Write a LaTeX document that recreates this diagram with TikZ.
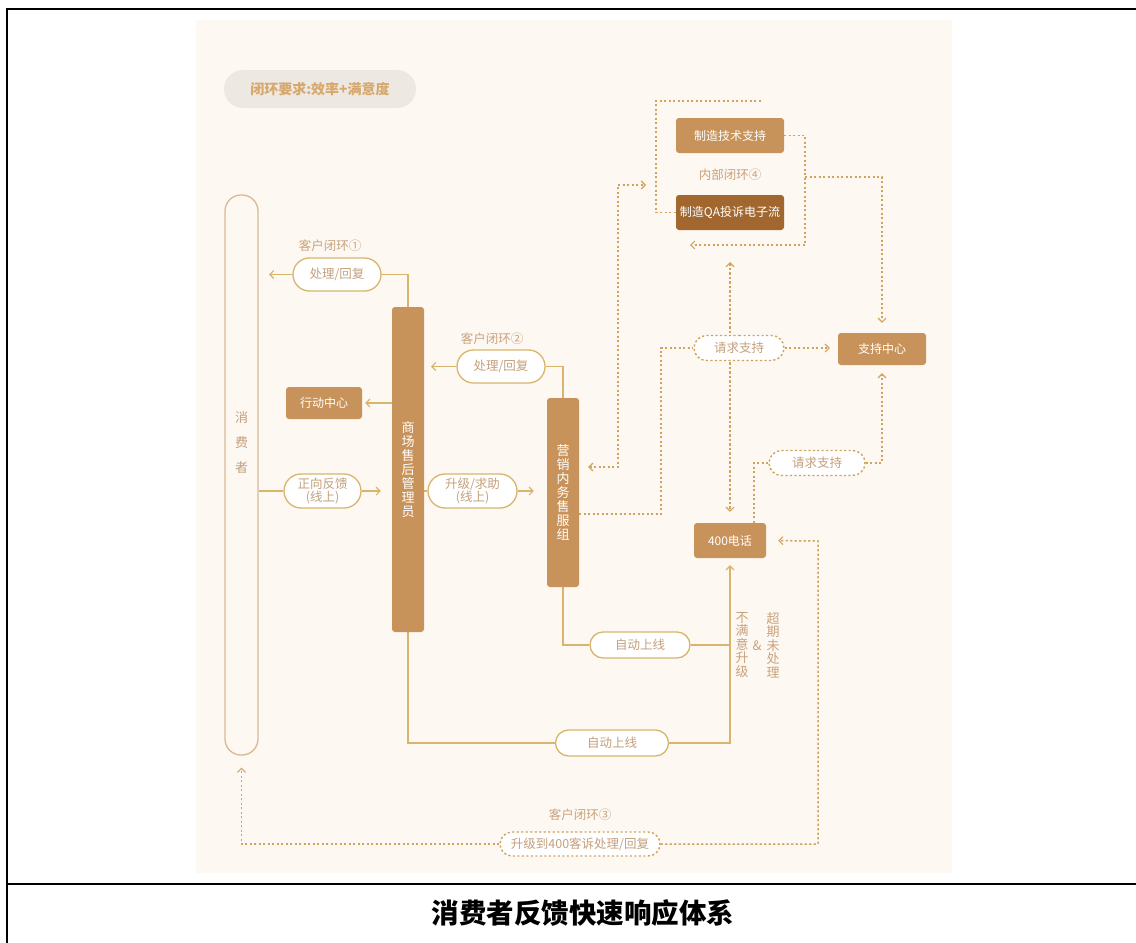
\documentclass[tikz,border=0pt]{standalone}
\usepackage{fontspec}
\setmainfont{Noto Sans CJK SC}
\usetikzlibrary{arrows.meta,shapes.misc}
\pgfdeclarelayer{back}
\pgfdeclarelayer{lines}
\pgfsetlayers{back,lines,main}
\definecolor{panel}{HTML}{FDF8F2}
\definecolor{gold}{HTML}{D8B46C}
\definecolor{dotc}{HTML}{D0A45E}
\definecolor{boxc}{HTML}{C8935A}
\definecolor{boxd}{HTML}{A2672E}
\definecolor{txt}{HTML}{C4A07C}
\definecolor{labc}{HTML}{C9A27C}
\definecolor{goalfill}{HTML}{EEE8E2}
\definecolor{goaltxt}{HTML}{D6A86E}
\definecolor{consline}{HTML}{D9B892}
\tikzset{
  sline/.style={draw=gold, line width=1.3pt},
  sarr/.style={sline, -{Straight Barb[length=4pt,width=8pt,line width=1.1pt]}},
  dline/.style={draw=dotc, line width=1.5pt, dash pattern=on 2.2pt off 2.3pt},
  darr/.style={dline, -{Straight Barb[length=4pt,width=8pt,line width=1.1pt]}},
  ddarr/.style={dline, {Straight Barb[length=4pt,width=8pt,line width=1.1pt]}-{Straight Barb[length=4pt,width=8pt,line width=1.1pt]}},
  pill/.style={rounded rectangle, draw=gold, fill=white, line width=1.3pt, inner sep=0pt, text=txt, align=center, font=\fontsize{12.5}{14}\selectfont},
  dpill/.style={rounded rectangle, draw=dotc, fill=white, line width=1.4pt, dash pattern=on 2.2pt off 2.3pt, inner sep=0pt, text=txt, font=\fontsize{12.5}{14}\selectfont},
  box/.style={rectangle, rounded corners=3pt, fill=boxc, text=white, inner sep=0pt, font=\fontsize{12}{14}\selectfont},
  bar/.style={rectangle, rounded corners=3pt, fill=boxc, text=white, inner sep=0pt, minimum width=32pt, align=center, font=\fontsize{13}{14}\selectfont},
  lab/.style={text=labc, inner sep=0pt, font=\fontsize{12.5}{14}\selectfont},
  vlab/.style={text=labc, inner sep=0pt, align=center, font=\fontsize{13}{13.5}\selectfont},
}
\begin{document}
\begin{tikzpicture}[x=1pt,y=-1pt]
\useasboundingbox (0,0) rectangle (1136,943);
\begin{pgfonlayer}{back}
\fill[white] (0,0) rectangle (1136,943);
\fill[panel] (196,20) rectangle (952,873);
\draw[black,line width=1.5pt] (7,943) -- (7,9) -- (1136,9);
\draw[black,line width=1.5pt] (7,884) -- (1136,884);
\end{pgfonlayer}

% title
\node[inner sep=0pt, font=\fontsize{27.5}{30}\selectfont\bfseries] (title) at (583,913) {消费者反馈快速响应体系};

% goal pill
\node[rounded rectangle, fill=goalfill, minimum width=192pt, minimum height=38pt, inner sep=0pt, text=goaltxt, font=\fontsize{14}{16}\selectfont\bfseries] (goal) at (320,89) {闭环要求:效率+满意度};

% consumer
\node[rectangle, draw=consline, line width=1.3pt, minimum width=33pt, minimum height=560pt, rounded corners=16pt, inner sep=0pt, fill=panel] (cons) at (241.5,475) {};
\node[text=txt, inner sep=0pt, align=center, font=\fontsize{13}{25}\selectfont] (consT) at (241.5,443) {消\\费\\者};

% bars
\node[bar, minimum height=325pt] (mall) at (408,469.5) {商\\场\\售\\后\\管\\理\\员};
\node[bar, minimum height=189pt] (mkt) at (563,492.5) {营\\销\\内\\务\\售\\服\\组};

% boxes
\node[box, minimum width=76pt, minimum height=32pt] (act) at (324,403) {行动中心};
\node[box, minimum width=72pt, minimum height=35pt] (phone) at (730,540.5) {400电话};
\node[box, minimum width=88pt, minimum height=32pt] (sup) at (882,349) {支持中心};
\node[box, minimum width=108pt, minimum height=35pt] (tech) at (730,135.5) {制造技术支持};
\node[box, fill=boxd, minimum width=108pt, minimum height=35pt] (qa) at (730,212.5) {制造QA投诉电子流};

% pills
\node[pill, minimum width=88pt, minimum height=33pt] (p1) at (337,274.5) {处理/回复};
\node[pill, minimum width=88pt, minimum height=33pt] (p2) at (501,366.5) {处理/回复};
\node[pill, minimum width=77pt, minimum height=34pt, font=\fontsize{12.5}{13}\selectfont] (fb) at (322.5,491) {正向反馈\\(线上)};
\node[pill, minimum width=89pt, minimum height=34pt, font=\fontsize{12.5}{13}\selectfont] (up) at (472.5,491) {升级/求助\\(线上)};
\node[pill, minimum width=100pt, minimum height=26pt] (auto1) at (640,645) {自动上线};
\node[pill, minimum width=113pt, minimum height=26pt] (auto2) at (612,743) {自动上线};
\node[dpill, minimum width=90pt, minimum height=25pt] (req1) at (739,348) {请求支持};
\node[dpill, minimum width=96pt, minimum height=25pt] (req2) at (817,463) {请求支持};
\node[dpill, minimum width=160pt, minimum height=24pt] (esc) at (580,844) {升级到400客诉处理/回复};

% labels
\node[lab] (l1) at (330,246) {客户闭环①};
\node[lab] (l2) at (492,339) {客户闭环②};
\node[lab] (l3) at (580,815) {客户闭环③};
\node[lab] (inner) at (730,175) {内部闭环④};
\node[vlab] (nsat) at (742,645) {不\\满\\意\\升\\级};
\node[vlab] (amp) at (757,646) {\&};
\node[vlab] (ovd) at (773,645) {超\\期\\未\\处\\理};

% coordinates
\coordinate (a1) at (269,274.5);
\coordinate (a2) at (431,366.5);
\coordinate (tl) at (656,101);
\coordinate (tr) at (761,101);
\coordinate (tb) at (805,245);
\coordinate (qb) at (690,245);
\coordinate (tm) at (805,177);
\coordinate (dl1) at (618,467);
\coordinate (qaL) at (646,185);
\coordinate (d2) at (661,514);
\coordinate (vt) at (730,262);
\coordinate (pq) at (754,463);
\coordinate (br) at (818,541);

\begin{pgfonlayer}{lines}
% solid
\draw[sline] (mall.north) |- (p1.east);
\draw[sarr] (p1.west) -- (a1);
\draw[sline] (mkt.north) |- (p2.east);
\draw[sarr] (p2.west) -- (a2);
\draw[sarr, shorten >=3pt] (mall.west |- act.east) -- (act.east);
\draw[sline] (cons.east |- fb.west) -- (fb.west);
\draw[sarr, shorten >=11pt] (fb.east) -- (mall.west |- fb.east);
\draw[sline] (mall.east |- up.west) -- (up.west);
\draw[sarr, shorten >=13pt] (up.east) -- (mkt.west |- up.east);
\draw[sline] (mkt.south) |- (auto1.west);
\draw[sline] (auto1.east) -- (phone.south |- auto1.east);
\draw[sline] (mall.south) |- (auto2.west);
\draw[sarr, shorten >=7pt] (auto2.east) -| (phone.south);
% dotted
\draw[dline] (qa.west) -| (tl) -- (tr);
\draw[darr] (tech.east) -| (tb) -- (qb);
\draw[darr, shorten >=10pt] (tm) -| (sup.north);
\draw[ddarr, shorten <=9pt] (mkt.east |- dl1) -- (dl1) |- (qaL);
\draw[dline] (mkt.east |- d2) -- (d2) |- (req1.west);
\draw[darr, shorten >=8pt] (req1.east) -- (sup.west |- req1.east);
\draw[ddarr, shorten >=11pt] (vt) -- (phone.north);
\draw[dline] (phone.north -| pq) |- (req2.west);
\draw[darr, shorten >=8pt] (req2.east) -| (sup.south);
\draw[darr, shorten >=12pt] (esc.east) -| (br) -- (phone.east);
\draw[darr, shorten >=12pt] (esc.west) -| (cons.south);
\end{pgfonlayer}
\end{tikzpicture}
\end{document}
